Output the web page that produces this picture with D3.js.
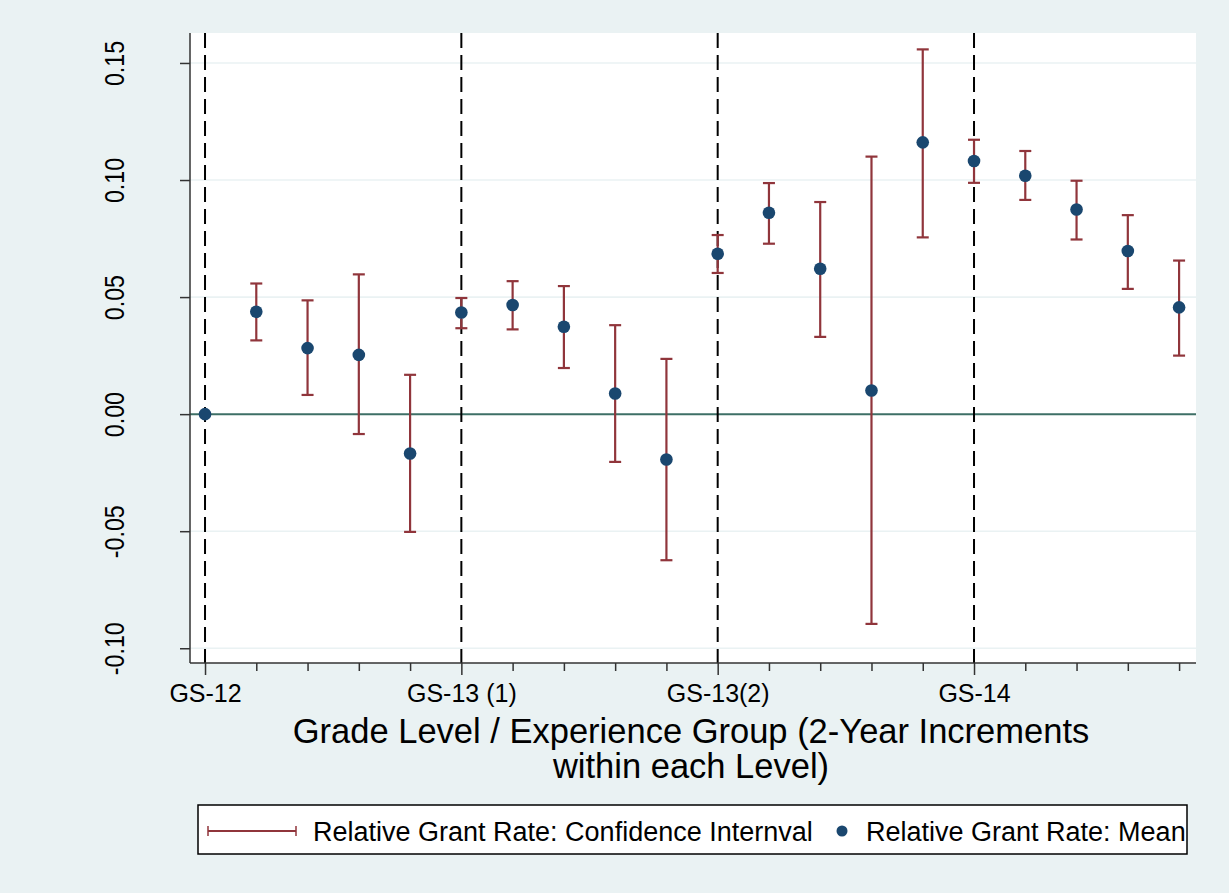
<!DOCTYPE html>
<html>
<head>
<meta charset="utf-8">
<script src="https://cdn.jsdelivr.net/npm/d3@7"></script>
<style>
  html, body { margin: 0; padding: 0; background: #eaf2f3; }
  svg { display: block; font-family: "Liberation Sans", Arial, sans-serif; }
</style>
</head>
<body>
<svg id="chart" width="1229" height="893"></svg>
<script>
// ---- data ----
const groupIndex = d3.range(20);
const meanValues = [0.0000, 0.0437, 0.0282, 0.0253, -0.0168, 0.0434, 0.0466, 0.0373, 0.0088, -0.0194,
                    0.0685, 0.0860, 0.0621, 0.0101, 0.1161, 0.1081, 0.1018, 0.0874, 0.0697, 0.0456];
const ciUpper    = [0.0000, 0.0558, 0.0486, 0.0597, 0.0168, 0.0496, 0.0568, 0.0547, 0.0380, 0.0236,
                    0.0765, 0.0987, 0.0906, 0.1100, 0.1558, 0.1172, 0.1124, 0.0997, 0.0850, 0.0656];
const ciLower    = [0.0000, 0.0315, 0.0082, -0.0085, -0.0503, 0.0367, 0.0362, 0.0197, -0.0204, -0.0624,
                    0.0603, 0.0728, 0.0330, -0.0896, 0.0755, 0.0988, 0.0915, 0.0746, 0.0535, 0.0250];
const levelPositions = [0, 5, 10, 15];
const levelLabels = ["GS-12", "GS-13 (1)", "GS-13(2)", "GS-14"];
const yTickValues = [-0.10, -0.05, 0.00, 0.05, 0.10, 0.15];
const yTickLabels = ["-0.10", "-0.05", "0.00", "0.05", "0.10", "0.15"];
const xTitleLines = ["Grade Level / Experience Group (2-Year Increments", "within each Level)"];
const legendLabels = ["Relative Grant Rate: Confidence Internval", "Relative Grant Rate: Mean"];

// ---- layout ----
const svg = d3.select("#chart");
const plot = { left: 190, right: 1196, top: 33, bottom: 663 };
const navy = "#1a476f", maroon = "#90353b", grid = "#eaf2f3";

const x = d3.scaleLinear().domain([-0.293, 19.33]).range([plot.left, plot.right]);
const y = d3.scaleLinear().domain([-0.1063, 0.1628]).range([plot.bottom, plot.top]);

svg.append("rect").attr("width", 1229).attr("height", 893).attr("fill", "#eaf2f3");
svg.append("rect").attr("x", plot.left).attr("y", plot.top)
  .attr("width", plot.right - plot.left).attr("height", plot.bottom - plot.top).attr("fill", "#ffffff");

// gridlines
svg.append("g").selectAll("line").data(yTickValues.filter(v => v !== 0)).join("line")
  .attr("x1", plot.left).attr("x2", plot.right)
  .attr("y1", d => y(d)).attr("y2", d => y(d))
  .attr("stroke", grid).attr("stroke-width", 1.6);

// zero line
svg.append("line").attr("x1", plot.left).attr("x2", plot.right)
  .attr("y1", y(0)).attr("y2", y(0)).attr("stroke", "#3e6f66").attr("stroke-width", 2);

// dashed level lines
svg.append("g").selectAll("line").data(levelPositions).join("line")
  .attr("x1", d => x(d)).attr("x2", d => x(d))
  .attr("y1", plot.top).attr("y2", plot.bottom)
  .attr("stroke", "#000").attr("stroke-width", 2).attr("stroke-dasharray", "15,7");

// y axis
const yAxis = d3.axisLeft(y).tickValues(yTickValues).tickSize(10).tickFormat((d, i) => yTickLabels[i]);
const gy = svg.append("g").attr("transform", `translate(${plot.left},0)`).call(yAxis);
gy.select(".domain").attr("stroke", "#333").attr("stroke-width", 1.5).attr("d", `M0,${plot.top}V${plot.bottom}`);
gy.selectAll(".tick line").attr("stroke", "#333").attr("stroke-width", 1.5);
gy.selectAll(".tick text")
  .attr("x", null).attr("dy", null)
  .attr("transform", "translate(-66,0) rotate(-90) scale(0.86,1)")
  .attr("text-anchor", "middle").attr("font-size", 27).attr("fill", "#000")
  .attr("font-family", "Liberation Sans, Arial, sans-serif");

// x axis
const xAxis = d3.axisBottom(x).tickValues(groupIndex).tickSize(8)
  .tickFormat(d => { const k = levelPositions.indexOf(d); return k >= 0 ? levelLabels[k] : ""; });
const gx = svg.append("g").attr("transform", `translate(0,${plot.bottom})`).call(xAxis);
gx.select(".domain").attr("stroke", "#333").attr("stroke-width", 1.5).attr("d", `M${plot.left},0H${plot.right}`);
gx.selectAll(".tick line").attr("stroke", "#333").attr("stroke-width", 1.5);
gx.selectAll(".tick line").filter(d => levelPositions.includes(d)).attr("y2", 12);
gx.selectAll(".tick text").attr("y", 39).attr("dy", null).attr("font-size", 25).attr("fill", "#000")
  .attr("font-family", "Liberation Sans, Arial, sans-serif");

// x title
svg.append("g").selectAll("text").data(xTitleLines).join("text")
  .attr("x", (plot.left + plot.right) / 2 - 2).attr("y", (d, i) => 743 + i * 35)
  .attr("text-anchor", "middle").attr("font-size", 34.5).attr("fill", "#000").text(d => d);

// error bars
const capHalf = 6;
const bars = svg.append("g").selectAll("g").data(groupIndex.filter(i => ciUpper[i] !== ciLower[i])).join("g")
  .attr("stroke", maroon).attr("stroke-width", 2.2);
bars.append("line").attr("x1", i => x(i)).attr("x2", i => x(i)).attr("y1", i => y(ciUpper[i])).attr("y2", i => y(ciLower[i]));
bars.append("line").attr("x1", i => x(i) - capHalf).attr("x2", i => x(i) + capHalf).attr("y1", i => y(ciUpper[i])).attr("y2", i => y(ciUpper[i]));
bars.append("line").attr("x1", i => x(i) - capHalf).attr("x2", i => x(i) + capHalf).attr("y1", i => y(ciLower[i])).attr("y2", i => y(ciLower[i]));

// means
svg.append("g").selectAll("circle").data(groupIndex).join("circle")
  .attr("cx", i => x(i)).attr("cy", i => y(meanValues[i])).attr("r", 6.3).attr("fill", navy);

// legend
const lg = svg.append("g");
lg.append("rect").attr("x", 198).attr("y", 805).attr("width", 989).attr("height", 49)
  .attr("fill", "#fff").attr("stroke", "#000").attr("stroke-width", 1.5);
lg.append("line").attr("x1", 208).attr("x2", 296).attr("y1", 831).attr("y2", 831).attr("stroke", maroon).attr("stroke-width", 2.2);
lg.append("line").attr("x1", 208).attr("x2", 208).attr("y1", 826).attr("y2", 836).attr("stroke", maroon).attr("stroke-width", 1.5);
lg.append("line").attr("x1", 296).attr("x2", 296).attr("y1", 826).attr("y2", 836).attr("stroke", maroon).attr("stroke-width", 1.5);
lg.append("text").attr("x", 313).attr("y", 841).attr("font-size", 27).attr("fill", "#000").text(legendLabels[0]);
lg.append("circle").attr("cx", 842).attr("cy", 831).attr("r", 5.5).attr("fill", navy);
lg.append("text").attr("x", 866).attr("y", 841).attr("font-size", 27).attr("fill", "#000").text(legendLabels[1]);
</script>
</body>
</html>
